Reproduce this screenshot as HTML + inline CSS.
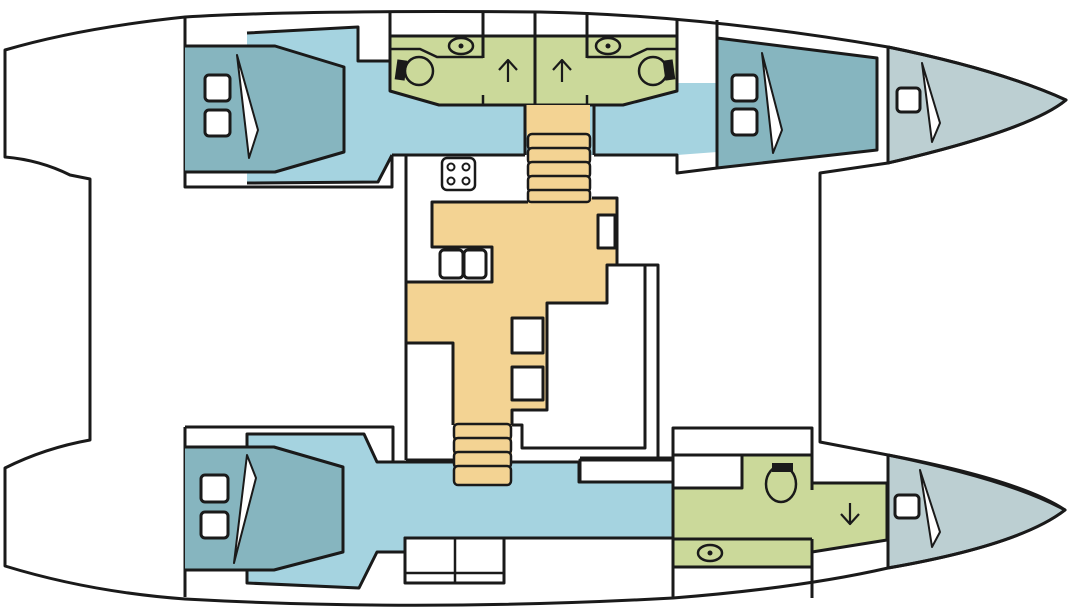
<!DOCTYPE html>
<html><head><meta charset="utf-8"><style>html,body{margin:0;padding:0;background:#fff}svg{display:block}</style></head>
<body>
<svg width="1070" height="614" viewBox="0 0 1070 614" xmlns="http://www.w3.org/2000/svg">
<g stroke="#1a1a1a" stroke-width="3" stroke-linejoin="round" fill="none">
<path d="M888,47 Q1000,70 1066,100 Q1030,130 888,163 Z" fill="#bccfd2"/>
<path d="M888,455 Q1010,480 1065,510 Q1020,545 888,568 Z" fill="#bccfd2"/>
<path d="M247,33 L358,27 L358,61 L390,61 L390,91 L439,105 L623,105 L677,91 L677,83 L717,83 L717,152 L677,155 L594,155 L525,155 L392,155 L378,182 L247,183 Z" fill="#a5d3e0" stroke="none"/>
<path d="M247,33 L358,27 L358,61 L390,61 M392,155 L378,182 L247,183 M392,155 L525,155 M594,155 L677,155 L677,173 L717,168" />
<path d="M185,17 L185,187 L392,187 L392,155"/>
<path d="M185,46 L275,46 L344,67 L344,152 L275,172 L185,172" fill="#86b5bf"/>
<path d="M237,55 L258,130 L249,158 Z" fill="#fff" stroke-width="2"/>
<rect x="205" y="75" width="25" height="26" rx="4" fill="#fff"/>
<rect x="205" y="110" width="25" height="26" rx="4" fill="#fff"/>
<path d="M390,36 L677,36 L677,91 L623,105 L439,105 L390,91 Z" fill="#cbd99a"/>
<path d="M390,12 L390,36 M483,12 L483,58 M535,12 L535,105 M587,12 L587,58 M677,20 L677,36"/>
<path d="M390,49 L420,49 L437,57 L483,57 M677,49 L647,49 L630,57 L587,57" stroke-width="2.5"/>
<path d="M483,95 L483,105 M587,95 L587,105" stroke-width="2.5"/>
<ellipse cx="461" cy="46" rx="12" ry="8" stroke-width="2.5"/><circle cx="461" cy="46" r="2.5" fill="#1a1a1a" stroke="none"/>
<ellipse cx="608" cy="46" rx="12" ry="8" stroke-width="2.5"/><circle cx="608" cy="46" r="2.5" fill="#1a1a1a" stroke="none"/>
<circle cx="419" cy="71" r="14" stroke-width="2.5"/>
<rect x="396" y="60" width="10" height="20" fill="#1a1a1a" stroke="none" transform="rotate(8 401 70)"/>
<circle cx="653" cy="71" r="14" stroke-width="2.5"/>
<rect x="664" y="60" width="10" height="20" fill="#1a1a1a" stroke="none" transform="rotate(-8 669 70)"/>
<path d="M508,82 L508,60 M499,70 L508,60 L517,70 M562,82 L562,60 M553,70 L562,60 L571,70" stroke-width="2.2"/>
<path d="M717,20 L717,168"/>
<path d="M717,38 L877,58 L877,150 L717,168 Z" fill="#86b5bf"/>
<path d="M762,53 L782,130 L773,153 Z" fill="#fff" stroke-width="2"/>
<rect x="732" y="75" width="25" height="26" rx="4" fill="#fff"/>
<rect x="732" y="109" width="25" height="26" rx="4" fill="#fff"/>
<path d="M888,47 L888,163"/>
<rect x="897" y="88" width="23" height="24" rx="4" fill="#fff"/>
<path d="M922,63 L940,123 L932,142 Z" fill="#fff" stroke-width="2"/>
<path d="M5,50 L5,157 Q40,160 70,175 L90,179 L90,440 Q45,448 5,468 L5,566 Q90,592 185,599 Q420,612 673,598 Q800,588 888,568 Q1020,545 1065,510 Q1020,480 888,455 L820,442 L820,173 L888,163 Q1030,130 1066,100 Q1000,70 888,47 Q700,15 540,12 Q300,10 185,17 Q80,28 5,50 Z"/>
<path d="M528,150 L528,202 L432,202 L432,247 L492,247 L492,282 L407,282 L407,343 L453,343 L453,483 L512,483 L512,410 L547,410 L547,303 L607,303 L607,265 L617,265 L617,198 L590,198 L590,105 L525,105 Z" fill="#f3d393" stroke="none"/>
<path d="M528,202 L432,202 L432,247 L492,247 L492,282 L407,282 M407,343 L453,343 L453,425 M512,425 L512,410 L547,410 L547,303 L607,303 L607,265 L617,265 L617,198 L592,198 M525,105 L525,155 M594,105 L594,155"/>
<path d="M406,155 L406,460"/>
<g fill="#f3d393" stroke-width="2.5">
<rect x="528" y="134" width="62" height="16" rx="4"/>
<rect x="528" y="148" width="62" height="16" rx="4"/>
<rect x="528" y="162" width="62" height="16" rx="4"/>
<rect x="528" y="176" width="62" height="16" rx="4"/>
<rect x="528" y="190" width="62" height="12" rx="3"/>
</g>
<rect x="442" y="158" width="33" height="32" rx="5" stroke-width="2.5"/>
<g stroke-width="2"><circle cx="451" cy="167" r="3.5"/><circle cx="466" cy="167" r="3.5"/><circle cx="451" cy="181" r="3.5"/><circle cx="466" cy="181" r="3.5"/></g>
<rect x="598" y="215" width="17" height="33" fill="#fff"/>
<rect x="440" y="250" width="23" height="28" rx="4" fill="#fff"/>
<rect x="464" y="250" width="22" height="28" rx="4" fill="#fff"/>
<rect x="512" y="318" width="31" height="35" fill="#fff"/>
<rect x="512" y="367" width="31" height="33" fill="#fff"/>
<path d="M607,265 L658,265 L658,458 M645,265 L645,448 L522,448 L522,425 L512,425"/>
<path d="M406,460 L453,460 M580,458 L673,458"/>
<path d="M247,434 L364,434 L377,462 L579,462 L579,482 L673,482 L673,538 L405,538 L405,552 L377,552 L359,588 L247,583 Z" fill="#a5d3e0"/>
<rect x="580" y="460" width="93" height="22" fill="#fff"/>
<g fill="#f3d393" stroke-width="2.5">
<rect x="454" y="424" width="57" height="16" rx="4"/>
<rect x="454" y="438" width="57" height="16" rx="4"/>
<rect x="454" y="452" width="57" height="16" rx="4"/>
<rect x="454" y="466" width="57" height="19" rx="4"/>
</g>
<path d="M185,427 L393,427 L393,462 M185,427 L185,597"/>
<path d="M185,447 L274,447 L343,467 L343,552 L274,570 L185,570" fill="#86b5bf"/>
<path d="M247,455 L256,478 L234,563 Z" fill="#fff" stroke-width="2"/>
<rect x="201" y="475" width="27" height="27" rx="4" fill="#fff"/>
<rect x="201" y="512" width="27" height="26" rx="4" fill="#fff"/>
<rect x="405" y="538" width="99" height="45" fill="#fff"/>
<path d="M455,538 L455,583 M405,573 L504,573" stroke-width="2.5"/>
<rect x="673" y="428" width="139" height="27" fill="#fff"/>
<path d="M673,455 L812,455 L812,483 L887,483 L887,540 L812,552 L812,567 L673,567 Z" fill="#cbd99a"/>
<rect x="673" y="455" width="69" height="33" fill="#fff"/>
<path d="M673,539 L812,539 M812,483 L812,490 M812,539 L812,598 M673,428 L673,598"/>
<ellipse cx="710" cy="553" rx="12" ry="8" stroke-width="2.5"/><circle cx="710" cy="553" r="2.5" fill="#1a1a1a" stroke="none"/>
<ellipse cx="781" cy="484" rx="15" ry="18" stroke-width="2.5"/>
<rect x="772" y="463" width="21" height="9" fill="#1a1a1a" stroke="none"/>
<path d="M850,503 L850,524 M841,514 L850,524 L859,514" stroke-width="2.2"/>
<path d="M888,455 L888,568"/>
<rect x="895" y="495" width="24" height="23" rx="4" fill="#fff"/>
<path d="M920,470 L940,532 L932,547 Z" fill="#fff" stroke-width="2"/>
</g>
</svg>
</body></html>
